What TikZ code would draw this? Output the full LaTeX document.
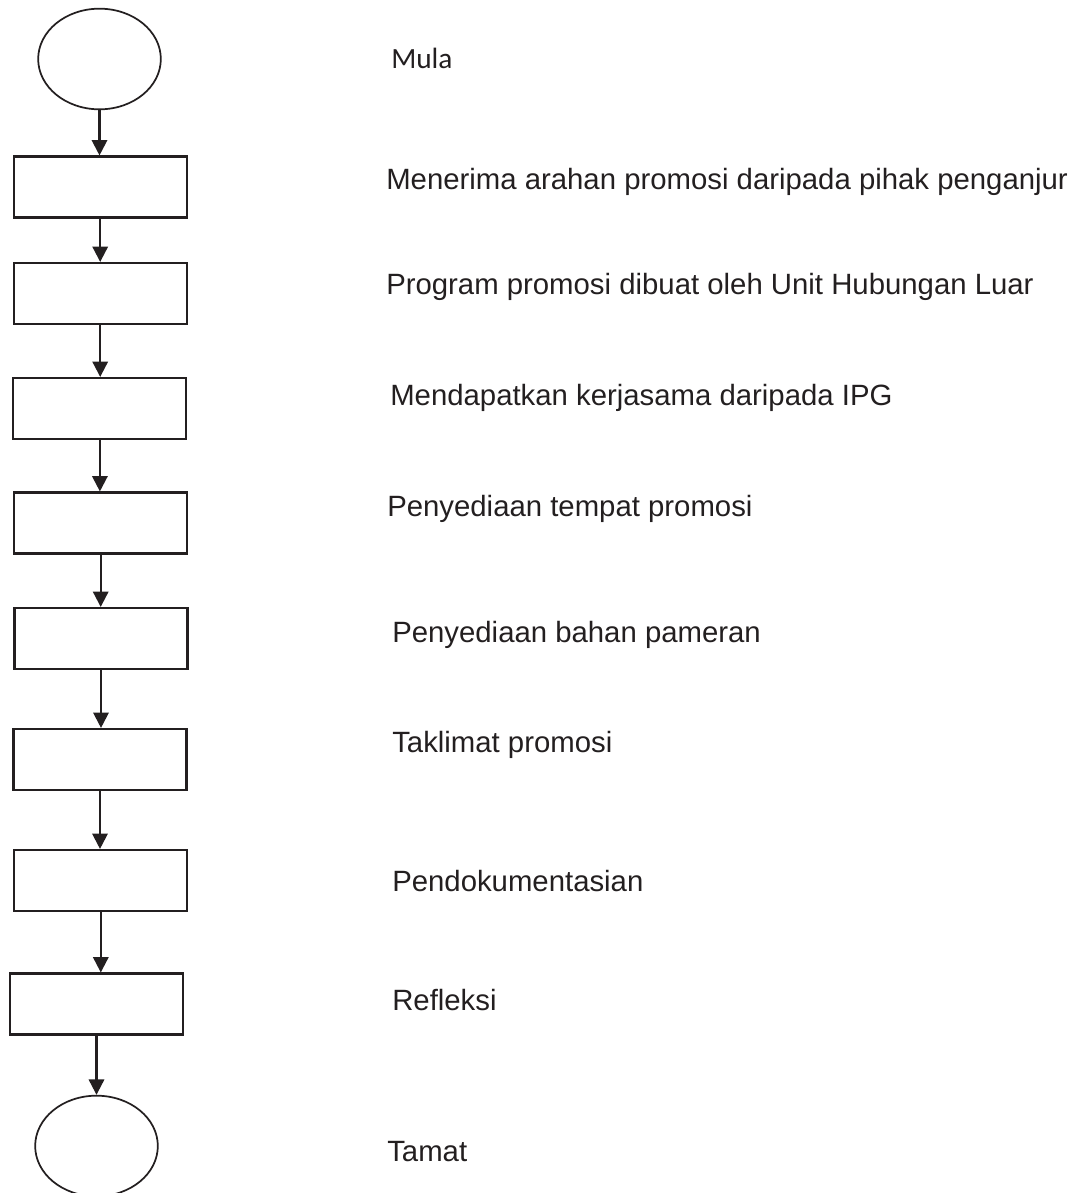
\documentclass[tikz,border=0pt]{standalone}
\usepackage{fontspec}
\setmainfont{Liberation Sans}
\newfontfamily\calibri{Carlito}
\usetikzlibrary{positioning,shapes.geometric,arrows.meta}
\definecolor{ink}{HTML}{231F20}
\tikzstyle{stepbox}=[rectangle, draw=ink, line width=1.6pt, inner sep=0pt,
        minimum width=129.75pt, minimum height=45.75pt]
\tikzstyle{terminal}=[ellipse, draw=ink, line width=1.3pt, inner sep=0pt,
        minimum width=92pt, minimum height=75.5pt]
\tikzstyle{steptext}=[anchor=base west, inner sep=0pt, text=ink, font=\fontsize{22}{26}\selectfont]
\tikzstyle{flow}=[draw=ink, line width=1.6pt, -{Triangle[width=11.5pt,length=11.5pt]}]

\begin{document}
\begin{tikzpicture}[x=0.75pt,y=-0.75pt]
        \useasboundingbox (0,0) rectangle (1081,1193);
        % carta alir
        \node (mula) [terminal] at (99.5,59) {};
        \node (s1) [stepbox] at (100.2,187) {};
        \node (s2) [stepbox] at (100.2,293.5) {};
        \node (s3) [stepbox] at (99.9,408.5) {};
        \node (s4) [stepbox] at (100.7,523) {};
        \node (s5) [stepbox] at (101,638.5) {};
        \node (s6) [stepbox] at (100,759.5) {};
        \node (s7) [stepbox] at (100.8,880.5) {};
        \node (s8) [stepbox] at (96.5,1004) {};
        \node (tamat) [terminal] at (96.5,1146) {};

        \draw[flow] (mula.south) -- (mula.south |- s1.north);
        \draw[flow] (s1.south) -- (s1.south |- s2.north);
        \draw[flow] (s2.south) -- (s2.south |- s3.north);
        \draw[flow] (s3.south) -- (s3.south |- s4.north);
        \draw[flow] (s4.south) -- (s4.south |- s5.north);
        \draw[flow] (s5.south) -- (s5.south |- s6.north);
        \draw[flow] (s6.south) -- (s6.south |- s7.north);
        \draw[flow] (s7.south) -- (s7.south |- s8.north);
        \draw[flow] (s8.south) -- (s8.south |- tamat.north);

        % keterangan
        \node (tmula) [steptext, font=\calibri\fontsize{22}{26}\selectfont] at (391,68) {Mula};
        \node (t1) [steptext] at (386,189) {Menerima arahan promosi daripada pihak penganjur};
        \node (t2) [steptext] at (386,294) {Program promosi dibuat oleh Unit Hubungan Luar};
        \node (t3) [steptext] at (390,405) {Mendapatkan kerjasama daripada IPG};
        \node (t4) [steptext] at (387,516) {Penyediaan tempat promosi};
        \node (t5) [steptext] at (392,642) {Penyediaan bahan pameran};
        \node (t6) [steptext] at (392,752) {Taklimat promosi};
        \node (t7) [steptext] at (392,891) {Pendokumentasian};
        \node (t8) [steptext] at (392,1010) {Refleksi};
        \node (ttamat) [steptext] at (387,1161) {Tamat};
\end{tikzpicture}
\end{document}
